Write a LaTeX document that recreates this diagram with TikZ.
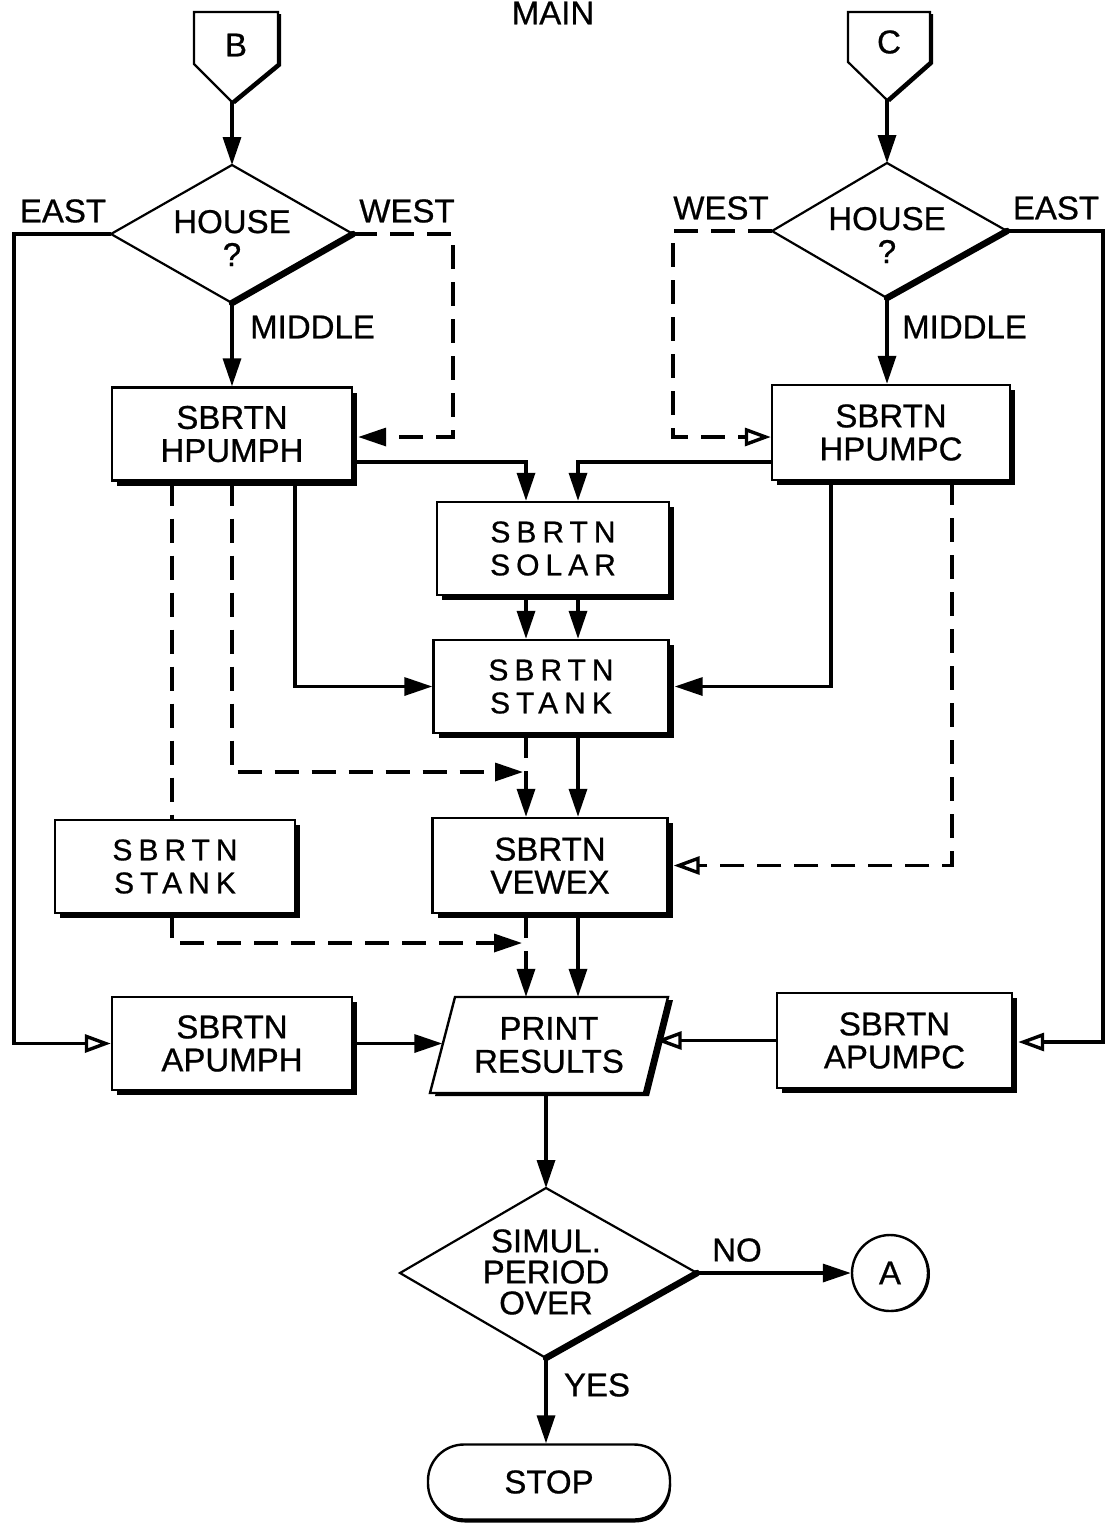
\documentclass[tikz,border=0pt]{standalone}
\usepackage{fontspec}
\setmainfont{Liberation Sans}[FakeBold=0.6]
\usetikzlibrary{arrows.meta,shadows,calc}
\newcommand{\diagfont}{\fontsize{33}{33}\selectfont\addfontfeatures{FakeBold=0.7}}
\newcommand{\spacedfont}{\fontsize{30}{33}\selectfont\addfontfeatures{LetterSpace=20,FakeBold=0.7}}
\begin{document}
\begin{tikzpicture}[x=1pt,y=-1pt,
  every node/.style={font=\diagfont, align=center, inner sep=0pt},
  sbox/.style={draw, line width=2.4pt, fill=white, minimum height=93pt,
     drop shadow={shadow xshift=5pt, shadow yshift=-5pt, fill=black, opacity=1}},
  ln/.style={line width=3.4pt},
  flow/.style={ln, -{Triangle[length=28pt,width=18pt]}},
  oflow/.style={ln, -{Triangle[open,length=26pt,width=18pt]}},
  dsh/.style={dash pattern=on 24pt off 13pt},
  shp/.style={line width=2.2pt, fill=white},
  heavyedge/.style={line width=6.5pt, line cap=round},
  spaced/.style={font=\spacedfont},
]
\useasboundingbox (0,0) rectangle (1106,1529);
\node (main) at (553,13) {MAIN};

% off-page connectors
\draw[shp, drop shadow={shadow xshift=3pt, shadow yshift=-2pt, fill=black, opacity=1}]
  (194,12) -- (278,12) -- (278,64) -- (232,102) -- (194,64) -- cycle;
\node (B) at (236,45) {B};
\coordinate (Bp) at (232,102);
\draw[shp, drop shadow={shadow xshift=3pt, shadow yshift=-2pt, fill=black, opacity=1}]
  (848,12) -- (930,12) -- (930,62) -- (887,100) -- (848,62) -- cycle;
\node (C) at (889,42) {C};
\coordinate (Cp) at (887,100);

% decision 1
\draw[shp] (232,165) -- (353,234) -- (232,303) -- (111,234) -- cycle;
\draw[heavyedge] (353,234) -- (232,303);
\coordinate (d1t) at (232,165);
\coordinate (d1r) at (353,234);
\coordinate (d1b) at (232,303);
\coordinate (d1l) at (111,234);
\node (d1) at (232,238) {HOUSE\\?};

% decision 2
\draw[shp] (887,163) -- (1007,231) -- (887,298) -- (772,231) -- cycle;
\draw[heavyedge] (1007,231) -- (887,298);
\coordinate (d2t) at (887,163);
\coordinate (d2r) at (1007,231);
\coordinate (d2b) at (887,298);
\coordinate (d2l) at (772,231);
\node (d2) at (887,235) {HOUSE\\?};

% boxes
\node[sbox, minimum width=240pt] (hpumph) at (232,434) {SBRTN\\HPUMPH};
\node[sbox, minimum width=238pt, minimum height=95pt] (hpumpc) at (891,432.5) {SBRTN\\HPUMPC};
\node[sbox, minimum width=232pt, spaced] (solar) at (553,548.5) {SBRTN\\SOLAR};
\node[sbox, minimum width=235pt, spaced] (stankc) at (551,686.5) {SBRTN\\STANK};
\node[sbox, minimum width=235pt, minimum height=95pt] (vewex) at (550,865.5) {SBRTN\\VEWEX};
\node[sbox, minimum width=240pt, spaced] (stankl) at (175,866.5) {SBRTN\\STANK};
\node[sbox, minimum width=240pt] (apumph) at (232,1043.5) {SBRTN\\APUMPH};
\node[sbox, minimum width=235pt, minimum height=95pt] (apumpc) at (894.5,1040.5) {SBRTN\\APUMPC};

% print
\draw[shp, line width=2.4pt, drop shadow={shadow xshift=5pt, shadow yshift=-3pt, fill=black, opacity=1}]
  (455,997) -- (668,997) -- (644,1093) -- (430,1093) -- cycle;
\node[minimum width=213pt, minimum height=96pt] (print) at (549,1045) {PRINT\\RESULTS};

% decision 3
\draw[shp] (546,1188) -- (697,1273) -- (546,1358) -- (400,1273) -- cycle;
\draw[heavyedge] (697,1273) -- (546,1358);
\coordinate (d3t) at (546,1188);
\coordinate (d3r) at (697,1273);
\coordinate (d3b) at (546,1358);
\node[font=\fontsize{33}{31}\selectfont\addfontfeatures{FakeBold=0.7}] (d3) at (546,1272) {SIMUL.\\PERIOD\\OVER};

\node[draw, circle, line width=2.4pt, minimum size=76pt, fill=white,
  drop shadow={shadow xshift=2pt, shadow yshift=-1pt, fill=black, opacity=1}] (A) at (890,1273) {A};
\node[draw, line width=2.4pt, rounded corners=36pt, minimum width=242pt, minimum height=75pt, fill=white,
  drop shadow={shadow xshift=1pt, shadow yshift=-3pt, fill=black, opacity=1}] (stop) at (549,1482) {STOP};

% labels
\node (eastL) at (63,211) {EAST};
\node (westL) at (407,211) {WEST};
\node[anchor=west] (midL) at (250,327) {MIDDLE};
\node (westR) at (721,208) {WEST};
\node (eastR) at (1056,208) {EAST};
\node[anchor=west] (midR) at (902,327) {MIDDLE};
\node (no) at (737,1250) {NO};
\node (yes) at (597,1385) {YES};

% connectors
\draw[flow] (Bp) -- (d1t);
\draw[flow] (Cp) -- (d2t);
\draw[oflow] (d1l) -- (14,234) |- (apumph.west);
\draw[flow, dsh] (d1r) -- (453,234) |- ($(hpumph.east)+(5,3)$);
\draw[flow] (d1b) -- (hpumph.north);
\draw[oflow, dsh] (d2l) -- (673,231) |- ($(hpumpc.west)+(0,4.5)$);
\draw[flow] (d2b) -- (d2b |- hpumpc.north);
\draw[oflow] (d2r) -- (1103,231) |- ($(apumpc.east)+(5,1.5)$);

\draw[flow] (hpumph.east |- 0,462) -| (solar.north -| 526,0);
\draw[flow] (hpumpc.west |- 0,462) -| (solar.north -| 578,0);
\draw[flow] (solar.south -| 526,0) -- (stankc.north -| 526,0);
\draw[flow] (solar.south -| 578,0) -- (stankc.north -| 578,0);
\draw[flow] (hpumph.south -| 295,0) |- (stankc.west);
\draw[flow] (hpumpc.south -| 831,0) |- ($(stankc.east)+(5,0)$);

\coordinate (j1) at (523,772);
\coordinate (j2) at (522,943);
\draw[flow, dsh] (hpumph.south -| 232,0) |- (j1);
\draw[flow, dsh] (stankc.south -| 526,0) -- (vewex.north -| 526,0);
\draw[flow] (stankc.south -| 578,0) -- (vewex.north -| 578,0);
\draw[oflow, dsh] (hpumpc.south -| 952,0) |- ($(vewex.east)+(5,0)$);
\draw[ln, dsh] (hpumph.south -| 172,0) -- (stankl.north -| 172,0);
\draw[flow, dsh] (stankl.south -| 172,0) |- (j2);
\draw[flow, dsh] (vewex.south -| 526,0) -- (print.north -| 526,0);
\draw[flow] (vewex.south -| 578,0) -- (print.north -| 578,0);

\draw[flow] (apumph.east) -- (apumph.east -| print.west);
\draw[oflow] (apumpc.west) -- (apumpc.west -| print.east);
\draw[flow] (d3t |- print.south) -- (d3t);
\draw[flow] (d3r) -- (A.west);
\draw[flow] (d3b) -- (d3b |- stop.north);
\end{tikzpicture}
\end{document}
